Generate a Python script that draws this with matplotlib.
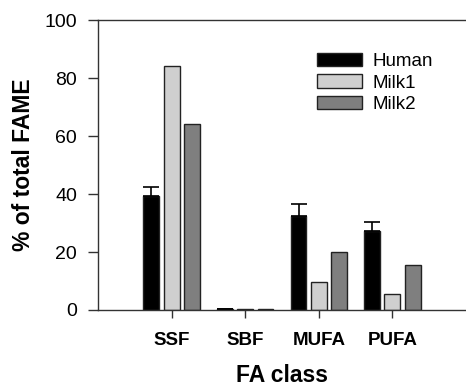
import matplotlib.pyplot as plt
import numpy as np

plt.rcParams['font.family'] = ['Liberation Sans', 'DejaVu Sans']

categories = ["SSF", "SBF", "MUFA", "PUFA"]
human = [39.4, 0.5, 32.5, 27.3]
human_err = [3.1, 0.0, 4.0, 3.2]
milk1 = [84.3, 0.4, 9.5, 5.6]
milk2 = [64.0, 0.5, 20.0, 15.4]

edge = "#222222"
x = np.arange(len(categories))
w = 0.215
off = 0.275

fig = plt.figure(figsize=(4.66, 3.87), dpi=100)
ax = fig.add_axes([0.2103, 0.199, 0.7897, 0.749])

ax.bar(x - off, human, w, color="black", edgecolor=edge, lw=1, label="Human",
       yerr=[np.zeros(len(human)), human_err], error_kw=dict(ecolor="black", elinewidth=1.2, capsize=5.5, capthick=1.2))
ax.bar(x, milk1, w, color="#cfcfcf", edgecolor=edge, lw=1, label="Milk1")
ax.bar(x + off, milk2, w, color="#7f7f7f", edgecolor=edge, lw=1, label="Milk2")

ax.set_xlim(-1, 4)
ax.set_ylim(0, 100)
ax.set_yticks([0, 20, 40, 60, 80, 100])
ax.set_xticks(x)
ax.set_xticklabels(categories, fontweight="bold", fontsize=13.5)
ax.tick_params(axis="y", labelsize=14, length=7, width=1, color="#333333", pad=8)
ax.tick_params(axis="x", length=6, width=1, color="#333333", pad=10)
ax.spines["right"].set_visible(False)
for s in ["left", "top", "bottom"]:
    ax.spines[s].set_color("#333333")
    ax.spines[s].set_linewidth(1)

ax.set_ylabel("% of total FAME", fontsize=16.5, fontweight="bold", labelpad=7)
ax.set_xlabel("FA class", fontsize=16.5, fontweight="bold", labelpad=11)

ax.legend(loc="upper left", bbox_to_anchor=(0.55, 0.945), frameon=False, fontsize=13.5,
          handlelength=2.4, handleheight=0.72, labelspacing=0.22, handletextpad=0.55)

fig.savefig("out.png", dpi=100)
